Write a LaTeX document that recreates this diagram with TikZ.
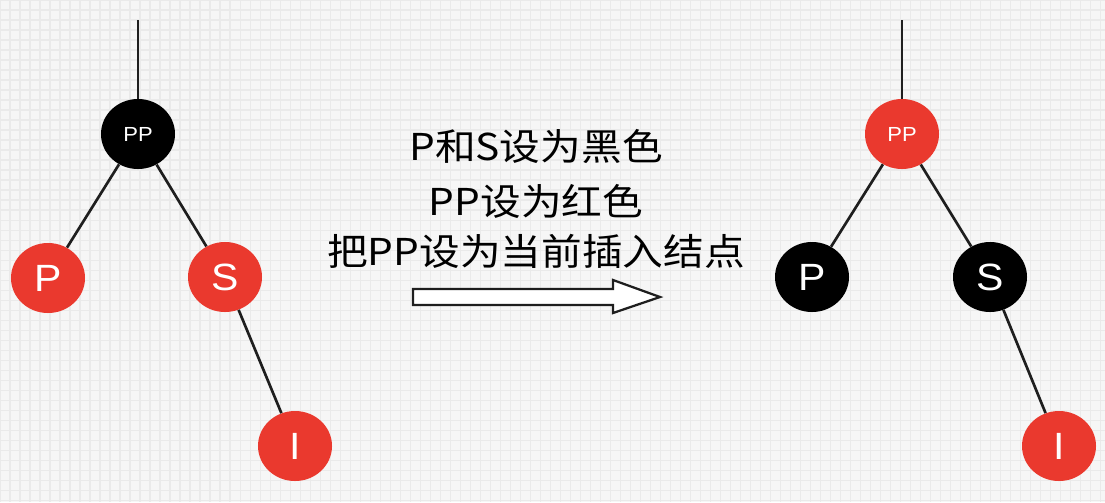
\documentclass[tikz,border=0pt]{standalone}
\usepackage{fontspec}
\usetikzlibrary{shapes.geometric}

\setmainfont{Liberation Sans}[FakeStretch=1.08]
\newfontfamily\cjk{Noto Sans CJK SC}[FakeStretch=1.1]

\definecolor{nodered}{RGB}{234,57,46}
\definecolor{bggray}{RGB}{246,246,246}
\definecolor{gridgray}{RGB}{234,234,234}
\definecolor{edgegray}{RGB}{30,30,30}

\begin{document}
\begin{tikzpicture}[x=0.025cm, y=-0.025cm,
	treenode/.style={ellipse, minimum width=1.85cm, minimum height=1.75cm, inner sep=0pt, text=white, font=\fontsize{27}{27}\selectfont},
	rednode/.style={treenode, fill=nodered},
	blacknode/.style={treenode, fill=black},
	smalltext/.style={font=\fontsize{14.5}{14.5}\selectfont},
	edge/.style={line width=1.9pt, draw=edgegray},
	msg/.style={font=\cjk\fontsize{26.3}{37}\selectfont}]
	
	% Background with grid
	\useasboundingbox (0,0) rectangle (1105,502);
	\fill[bggray] (0,0) rectangle (1105,502);
	\draw[gridgray, line width=0.8pt, step=0.25cm] (0,0) grid (1105,502);
	
	% Tree before the change
	\coordinate (topL) at (138,20);
	\node[blacknode, smalltext] (ppL) at (138,134) {PP};
	\node[rednode] (pL) at (48,278) {P};
	\node[rednode] (sL) at (225,277) {S};
	\node[rednode] (iL) at (295,446) {I};
	
	\draw[edge] (topL) -- (ppL);
	\draw[edge] (ppL) -- (pL);
	\draw[edge] (ppL) -- (sL);
	\draw[edge] (sL) -- (iL);
	
	% Tree after the change
	\coordinate (topR) at (902,20);
	\node[rednode, smalltext] (ppR) at (902,134) {PP};
	\node[blacknode] (pR) at (812,277) {P};
	\node[blacknode] (sR) at (990,277) {S};
	\node[rednode] (iR) at (1059,446) {I};
	
	\draw[edge] (topR) -- (ppR);
	\draw[edge] (ppR) -- (pR);
	\draw[edge] (ppR) -- (sR);
	\draw[edge] (sR) -- (iR);
	
	% Description of the step
	\node[msg] (msgA) at (536,146) {P和S设为黑色};
	\node[msg] (msgB) at (536,201) {PP设为红色};
	\node[msg] (msgC) at (536,251) {把PP设为当前插入结点};
	
	% Hollow arrow
	\draw[edgegray, fill=white, line width=1.6pt, line join=miter]
		(413,289) -- (613,289) -- (613,280) -- (660,297) -- (613,313) -- (613,305) -- (413,305) -- cycle;
	
\end{tikzpicture}
\end{document}
